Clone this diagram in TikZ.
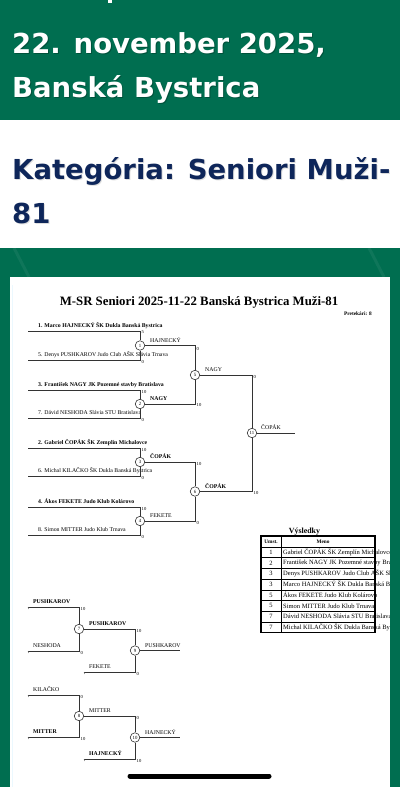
\documentclass[tikz,border=0pt]{standalone}
\usepackage{fontspec}
\setmainfont{Liberation Serif}
\newfontfamily\hdr{DejaVu Sans}
\definecolor{dgreen}{RGB}{0,110,80}
\definecolor{navy}{RGB}{14,38,90}
\tikzset{
 ln/.style={line width=0.6pt, draw=black!80},
 mc/.style={circle, draw=black!80, line width=0.6pt, fill=white, minimum size=9.5pt, inner sep=0pt, font=\fontsize{4.8}{5}\selectfont},
 ent/.style={anchor=base west, inner sep=0pt, font=\fontsize{5.8}{6}\selectfont},
 entb/.style={anchor=base west, inner sep=0pt, font=\fontsize{5.8}{6}\selectfont\bfseries},
 sc/.style={anchor=west, inner sep=0pt, font=\fontsize{4.6}{5}\selectfont},
 hd/.style={anchor=base west, inner sep=0pt, font=\hdr\bfseries\fontsize{27.5}{30}\selectfont},
 tick/.style={line width=0.4pt, draw=black!60},
 tb/.style={inner sep=0pt, font=\fontsize{6.5}{7}\selectfont},
}
\begin{document}
\begin{tikzpicture}[x=1pt,y=-1pt]
\useasboundingbox (0,0) rectangle (400,787);
% backgrounds
\fill[dgreen] (0,0) rectangle (400,120);
\fill[white] (0,120) rectangle (400,248);
\fill[dgreen] (0,248) rectangle (400,787);
\draw[line width=3pt, white, opacity=0.06] (14,248) -- (29,277);
\draw[line width=3pt, white, opacity=0.06] (369,248) -- (384,277);
\fill[white] (10,277) rectangle (390,787);
\draw[line width=0.8pt, cyan!8] (12,285) -- (12,787);
\fill[white] (108,0) rectangle (112,3);
% header texts
\node[hd, text=black, opacity=0.25] at (13,54) {22. november 2025,};
\node[hd, text=white] (h1) at (12,53) {22. november 2025,};
\node[hd, text=black, opacity=0.25] at (13,98) {Banská Bystrica};
\node[hd, text=white] (h2) at (12,97) {Banská Bystrica};
\node[hd, text=black, opacity=0.13] at (13,180) {Kategória: Seniori Muži-};
\node[hd, text=navy] (h3) at (12,179) {Kategória: Seniori Muži-};
\node[hd, text=black, opacity=0.13] at (13,224) {81};
\node[hd, text=navy] (h4) at (12,223) {81};
% sheet title
\node[anchor=base, inner sep=0pt, font=\fontsize{12.8}{14}\selectfont\bfseries] (title) at (199,305) {M-SR Seniori 2025-11-22 Banská Bystrica Muži-81};
\node[anchor=base east, inner sep=0pt, font=\fontsize{5.3}{6}\selectfont\bfseries] (pret) at (372,315) {Pretekári: 8};
% match circles
\node[mc] (m1) at (140,345.5) {1};
\node[mc] (m2) at (140,404) {2};
\node[mc] (m3) at (140,462) {3};
\node[mc] (m4) at (140,521) {4};
\node[mc] (m5) at (195,375) {5};
\node[mc] (m6) at (195,491.5) {6};
\node[mc] (m11) at (252,433) {11};
% entries
\coordinate (p1) at (28,331); \coordinate (p5) at (28,360);
\coordinate (p3) at (28,390); \coordinate (p7) at (28,418);
\coordinate (p2) at (28,448); \coordinate (p6) at (28,476);
\coordinate (p4) at (28,507); \coordinate (p8) at (28,535);
\node[entb] (t1) at (38,327.5) {1. Marco HAJNECKÝ ŠK Dukla Banská Bystrica};
\node[ent] (t5) at (38,356.5) {5. Denys PUSHKAROV Judo Club AŠK Slávia Trnava};
\node[entb] (t3) at (38,386.5) {3. František NAGY JK Pozemné stavby Bratislava};
\node[ent] (t7) at (38,414.5) {7. Dávid NESHODA Slávia STU Bratislava};
\node[entb] (t2) at (38,444.5) {2. Gabriel ČOPÁK ŠK Zemplín Michalovce};
\node[ent] (t6) at (38,472.5) {6. Michal KILAČKO ŠK Dukla Banská Bystrica};
\node[entb] (t4) at (38,503.5) {4. Ákos FEKETE Judo Klub Kolárovo};
\node[ent] (t8) at (38,531.5) {8. Simon MITTER Judo Klub Trnava};
\draw[ln] (p1) -| (m1); \draw[ln] (p5) -| (m1);
\draw[ln] (p3) -| (m2); \draw[ln] (p7) -| (m2);
\draw[ln] (p2) -| (m3); \draw[ln] (p6) -| (m3);
\draw[ln] (p4) -| (m4); \draw[ln] (p8) -| (m4);
\draw[ln] (m1) -| (m5); \draw[ln] (m2) -| (m5);
\draw[ln] (m3) -| (m6); \draw[ln] (m4) -| (m6);
\draw[ln] (m5) -| (m11); \draw[ln] (m6) -| (m11);
\coordinate (w11) at (295,433);
\draw[ln] (m11) -- (w11);
% winner labels
\node[ent] (l1) at (150,342) {HAJNECKÝ};
\node[entb] (l2) at (150,400.5) {NAGY};
\node[entb] (l3) at (150,458.5) {ČOPÁK};
\node[ent] (l4) at (150,517.5) {FEKETE};
\node[ent] (l5) at (205,371.5) {NAGY};
\node[entb] (l6) at (205,488) {ČOPÁK};
\node[ent] (l11) at (261,429.5) {ČOPÁK};
% scores
\node[sc] at (141.5,332.5) {5};
\node[sc] at (141.5,361.5) {0};
\node[sc] at (141.5,391.5) {10};
\node[sc] at (141.5,419.5) {0};
\node[sc] at (141.5,449.5) {10};
\node[sc] at (141.5,477.5) {0};
\node[sc] at (141.5,508.5) {10};
\node[sc] at (141.5,536.5) {0};
\node[sc] at (196.5,348.5) {0};
\node[sc] at (196.5,405) {10};
\node[sc] at (196.5,464) {10};
\node[sc] at (196.5,523) {0};
\node[sc] at (253.5,377) {0};
\node[sc] at (253.5,493) {10};
% results table
\node[anchor=base, inner sep=0pt, font=\fontsize{7.9}{8}\selectfont\bfseries] (vys) at (304.5,533) {Výsledky};
\begin{scope}
\clip (10,530) rectangle (389,640);
\foreach \r/\n [count=\i from 0] in {1/Gabriel ČOPÁK ŠK Zemplín Michalovce,2/František NAGY JK Pozemné stavby Bratislava,3/Denys PUSHKAROV Judo Club AŠK Slávia Trnava,3/Marco HAJNECKÝ ŠK Dukla Banská Bystrica,5/Ákos FEKETE Judo Klub Kolárovo,5/Simon MITTER Judo Klub Trnava,7/Dávid NESHODA Slávia STU Bratislava,7/Michal KILAČKO ŠK Dukla Banská Bystrica}{
  \node[tb] at (271,{552.35+\i*10.7}) {\r};
  \node[tb, anchor=west] at (283,{552.35+\i*10.7}) {\n};
}
\end{scope}
\node[inner sep=0pt, font=\fontsize{5.3}{6}\selectfont\bfseries] (umst) at (271,541.5) {Umst.};
\node[inner sep=0pt, font=\fontsize{5.3}{6}\selectfont\bfseries] (meno) at (323,541.5) {Meno};
\foreach \i in {0,...,7} \draw[line width=0.5pt] (261,{547+\i*10.7}) -- (375,{547+\i*10.7});
\draw[line width=0.5pt] (281,536) -- (281,632.6);
\draw[line width=1.1pt] (261,536) rectangle (375,632.6);
% repechage
\node[mc] (m7) at (79,629) {7};
\node[mc] (m9) at (135,650.5) {9};
\node[mc] (m8) at (79,716) {8};
\node[mc] (m10) at (135,737.5) {10};
\coordinate (q1) at (28,607); \coordinate (q2) at (28,651);
\coordinate (q3) at (84,672);
\coordinate (q4) at (28,695); \coordinate (q5) at (28,737);
\coordinate (q6) at (84,759);
\coordinate (w9) at (180,650.5); \coordinate (w10) at (180,737.5);
\node[entb] (r1) at (33,603.5) {PUSHKAROV};
\node[ent] (r2) at (33,647.5) {NESHODA};
\node[ent] (r3) at (89,668.5) {FEKETE};
\node[ent] (r4) at (33,691.5) {KILAČKO};
\node[entb] (r5) at (33,733.5) {MITTER};
\node[entb] (r6) at (89,755.5) {HAJNECKÝ};
\draw[ln] (q1) -| (m7); \draw[ln] (q2) -| (m7);
\draw[ln] (m7) -| (m9); \draw[ln] (q3) -| (m9);
\draw[ln] (m9) -- (w9);
\draw[ln] (q4) -| (m8); \draw[ln] (q5) -| (m8);
\draw[ln] (m8) -| (m10); \draw[ln] (q6) -| (m10);
\draw[ln] (m10) -- (w10);
\foreach \q in {q1,q2,q3,q4,q5,q6} \draw[tick] (\q) -- ++(0.6,2);
\node[entb] (l7) at (89,625.5) {PUSHKAROV};
\node[ent] (l9) at (145,647) {PUSHKAROV};
\node[ent] (l8) at (89,712.5) {MITTER};
\node[ent] (l10) at (145,734) {HAJNECKÝ};
\node[sc] at (80.5,608.5) {10};
\node[sc] at (80.5,652.5) {0};
\node[sc] at (136.5,631) {10};
\node[sc] at (136.5,673.5) {0};
\node[sc] at (80.5,696.5) {0};
\node[sc] at (80.5,738.5) {10};
\node[sc] at (136.5,718) {0};
\node[sc] at (136.5,760.5) {10};
% home indicator
\draw[line width=5pt, line cap=round] (130,776) -- (269,776);
\end{tikzpicture}
\end{document}
